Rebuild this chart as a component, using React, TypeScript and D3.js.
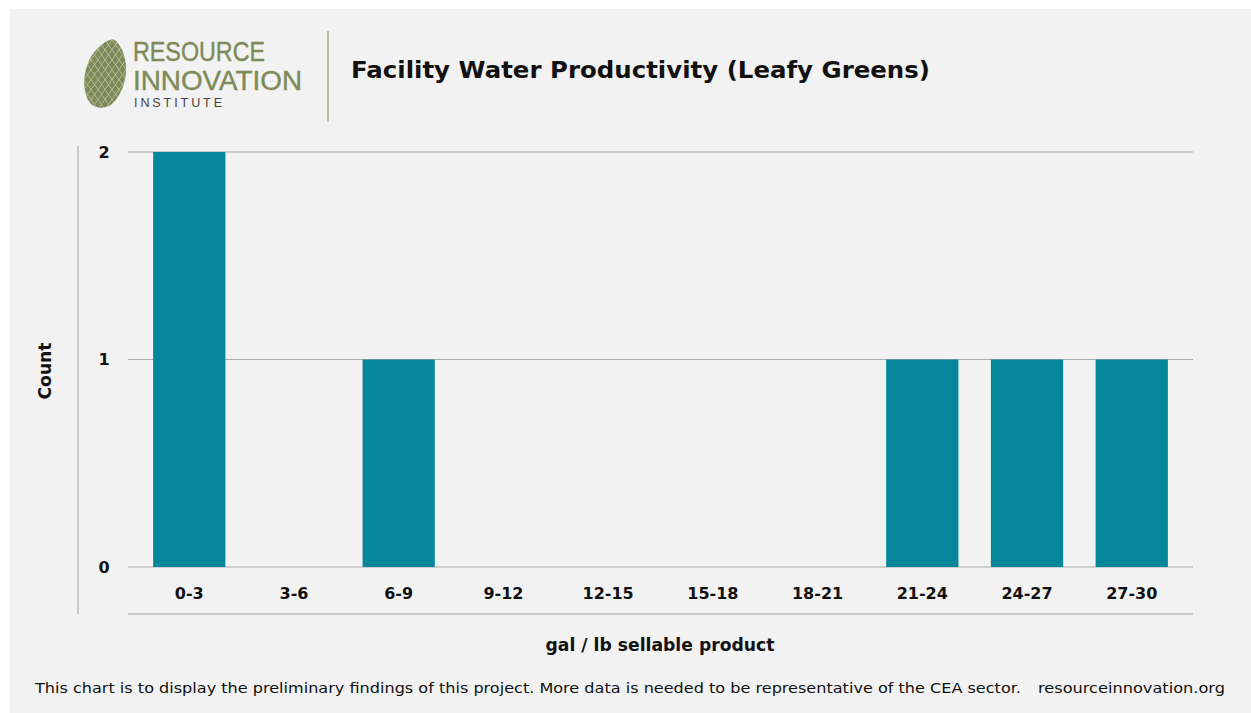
import React from "react";
import * as d3 from "d3";

const categories = ["0-3", "3-6", "6-9", "9-12", "12-15", "15-18", "18-21", "21-24", "24-27", "27-30"];
const counts = [2, 0, 1, 0, 0, 0, 0, 1, 1, 1];
const yTicks = [0, 1, 2];

const title = "Facility Water Productivity (Leafy Greens)";
const xTitle = "gal / lb sellable product";
const yTitle = "Count";
const footer = "This chart is to display the preliminary findings of this project. More data is needed to be representative of the CEA sector.";
const site = "resourceinnovation.org";

const W = 1251;
const H = 713;
const FONT = "'DejaVu Sans', 'Open Sans', sans-serif";
const OLIVE = "#7e8a58";

function Logo() {
  const leaf = "M 113 39 C 130 50, 131 86, 112 104 C 104 110, 93 109, 88 100 C 78 80, 88 46, 113 39 Z";
  const lines: string[] = [];
  for (let i = -8; i <= 8; i++) {
    lines.push(`M ${70 + i * 7} 30 L ${130 + i * 7} 115`);
    lines.push(`M ${140 + i * 7} 30 L ${80 + i * 7} 115`);
  }
  return (
    <g>
      <defs>
        <clipPath id="leafclip">
          <path d={leaf} />
        </clipPath>
      </defs>
      <path d={leaf} fill={OLIVE} />
      <g clipPath="url(#leafclip)" stroke="#e8ead8" strokeWidth={0.7} opacity={0.7} fill="none">
        {lines.map((d, i) => (
          <path key={i} d={d} />
        ))}
      </g>
      <text x={133} y={61} fontFamily="'Liberation Sans', Arial, sans-serif" fontSize={28} fill={OLIVE} stroke={OLIVE} strokeWidth={0.4} textLength={132} lengthAdjust="spacingAndGlyphs">RESOURCE</text>
      <text x={133} y={90} fontFamily="'Liberation Sans', Arial, sans-serif" fontSize={28} fill={OLIVE} stroke={OLIVE} strokeWidth={0.4} textLength={169} lengthAdjust="spacingAndGlyphs">INNOVATION</text>
      <text x={134} y={107} fontFamily="'Liberation Sans', Arial, sans-serif" fontSize={12.5} fill="#444" textLength={88} lengthAdjust="spacing">INSTITUTE</text>
    </g>
  );
}

export default function App() {
  const x = d3.scaleBand<string>().domain(categories).range([128, 1193]).paddingInner(0.31).paddingOuter(0.24);
  const y = d3.scaleLinear().domain([0, 2]).range([567, 152]);

  return (
    <svg width={W} height={H} style={{ position: "absolute", left: 0, top: 0 }}>
      <rect x={0} y={0} width={W} height={H} fill="#ffffff" />
      <rect x={10} y={9} width={W - 10} height={H - 9} fill="#f2f2f2" />
      <Logo />
      <line x1={328} x2={328} y1={31} y2={122} stroke="#9aa080" strokeWidth={1.2} />
      <text x={351} y={78} fontFamily={FONT} fontWeight={700} fontSize={23} fill="#111" textLength={579} lengthAdjust="spacingAndGlyphs">{title}</text>

      <line x1={78} x2={78} y1={146} y2={614} stroke="#a0a0a0" strokeWidth={1} />
      {yTicks.map((t) => (
        <g key={t}>
          <line x1={128} x2={1193} y1={y(t)} y2={y(t)} stroke="#ababab" strokeWidth={1} />
          <text x={104} y={y(t)} dy="0.35em" textAnchor="middle" fontFamily={FONT} fontWeight={700} fontSize={16} fill="#111">{t}</text>
        </g>
      ))}
      {categories.map((c, i) => (
        <g key={c}>
          {counts[i] > 0 && (
            <rect x={x(c)} y={y(counts[i])} width={x.bandwidth()} height={y(0) - y(counts[i])} fill="#05869a" />
          )}
          <text x={(x(c) as number) + x.bandwidth() / 2} y={593} dy="0.35em" textAnchor="middle" fontFamily={FONT} fontWeight={700} fontSize={16} fill="#111">{c}</text>
        </g>
      ))}
      <line x1={128} x2={1193} y1={614} y2={614} stroke="#a0a0a0" strokeWidth={1} />

      <text x={660} y={645} dy="0.35em" textAnchor="middle" fontFamily={FONT} fontWeight={700} fontSize={17} fill="#111" textLength={229} lengthAdjust="spacingAndGlyphs">{xTitle}</text>
      <text transform="translate(45,371) rotate(-90)" dy="0.35em" textAnchor="middle" fontFamily={FONT} fontWeight={700} fontSize={17} fill="#111" textLength={57} lengthAdjust="spacingAndGlyphs">{yTitle}</text>

      <text x={35} y={693} fontFamily={FONT} fontSize={14} fill="#111" textLength={986} lengthAdjust="spacingAndGlyphs">{footer}</text>
      <text x={1038} y={693} fontFamily={FONT} fontSize={14} fill="#111" textLength={187} lengthAdjust="spacingAndGlyphs">{site}</text>
    </svg>
  );
}
